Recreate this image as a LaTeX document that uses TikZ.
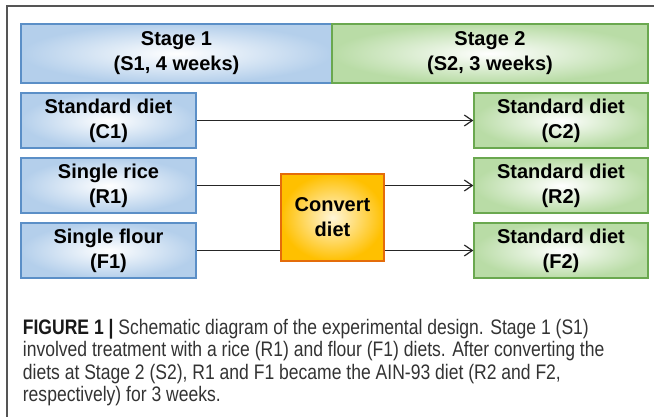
\documentclass[tikz,border=0pt]{standalone}
\usepackage{fontspec}
\setmainfont{Liberation Sans}
\newfontfamily\capfont[FakeStretch=0.835]{Liberation Sans}
\usepackage{tikz}
\usetikzlibrary{arrows.meta}
\usetikzlibrary{positioning}
\definecolor{blueedge}{HTML}{5B8FC7}
\definecolor{bluefill}{HTML}{B4CFEB}
\definecolor{greenedge}{HTML}{6AA84F}
\definecolor{greenfill}{HTML}{B9DCA6}
\definecolor{convedge}{HTML}{E46C0A}
\definecolor{convfill}{HTML}{FFC000}
\definecolor{framegray}{HTML}{555555}
\definecolor{captext}{HTML}{333333}
\tikzset{box/.style = {draw, line width = 1.3pt, inner sep = 0, align = center,
                       font = \fontsize{20}{25}\selectfont\bfseries}}
\tikzset{one/.style = {box, draw = blueedge, inner color = white, outer color = bluefill}}
\tikzset{two/.style = {box, draw = greenedge, inner color = white, outer color = greenfill}}
\tikzset{diet/.style = {minimum width = 175, minimum height = 55}}
\tikzset{conv/.style = {box, draw = convedge, inner color = white!85!convfill,
                        outer color = convfill, minimum width = 103, minimum height = 87}}
\tikzset{link/.style = {line width = 1.2pt, draw = black!85}}
\tikzset{feed/.style = {link, -{Straight Barb[length = 8pt, width = 11pt, line width = 1.2pt]}}}

\begin{document}
\begin{tikzpicture}[x = 1pt, y = -1pt]
    \useasboundingbox (0, 0) rectangle (654, 417);
    \draw [framegray, line width = 1.5pt] (654, 6) -- (7, 6) -- (7, 417);
    \node [one, minimum width = 311, minimum height = 59] (s1) at (176.5, 53.5) {Stage 1\\(S1, 4 weeks)};
    \node [two, minimum width = 316, minimum height = 59] (s2) at (490, 53.5) {Stage 2\\(S2, 3 weeks)};
    \node [one, diet] (c1) at (108.5, 120.5) {Standard diet\\(C1)};
    \node [one, diet, below = 8.7pt of c1] (r1) {Single rice\\(R1)};
    \node [one, diet, below = 8.7pt of r1] (f1) {Single flour\\(F1)};
    \node [two, diet, minimum width = 174] (c2) at (561, 120.5) {Standard diet\\(C2)};
    \node [two, diet, minimum width = 174, below = 8.7pt of c2] (r2) {Standard diet\\(R2)};
    \node [two, diet, minimum width = 174, below = 8.7pt of r2] (f2) {Standard diet\\(F2)};
    \node [conv] (cd) at (332.5, 217.5) {Convert\\diet};
    \draw [feed] (c1) -- (c2);
    \draw [link] (r1) -- (r1 -| cd.west);
    \draw [link] (f1) -- (f1 -| cd.west);
    \draw [feed] (r1 -| cd.east) -- (r2);
    \draw [feed] (f1 -| cd.east) -- (f2);
    \node [anchor = base west, align = left, inner sep = 0, text = captext,
           font = \capfont\fontsize{21}{22.4}\selectfont] (cap) at (22.7, 401.5)
      {{\bfseries\color{black!90}FIGURE 1 |} Schematic diagram of the experimental design. Stage 1 (S1)\\
       involved treatment with a rice (R1) and flour (F1) diets. After converting the\\
       diets at Stage 2 (S2), R1 and F1 became the AIN-93 diet (R2 and F2,\\
       respectively) for 3 weeks.};
  \end{tikzpicture}
\end{document}
